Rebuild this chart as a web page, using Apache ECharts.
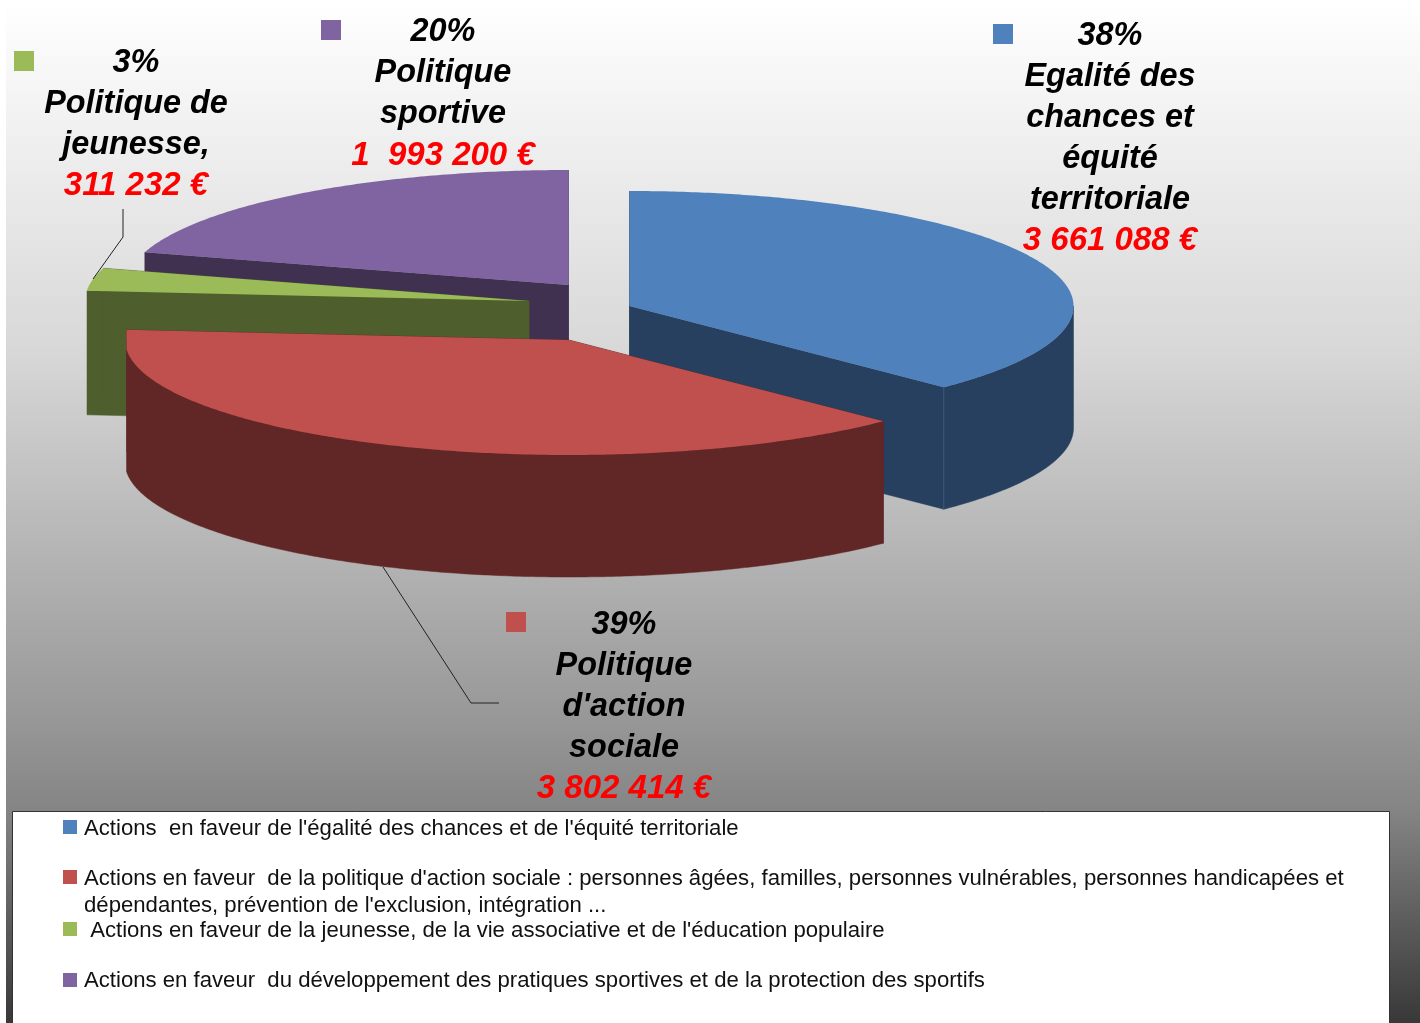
<!DOCTYPE html>
<html><head><meta charset="utf-8">
<style>html,body{margin:0;padding:0;background:#fff}#c{width:1420px;height:1023px}</style>
<script src="https://cdn.jsdelivr.net/npm/echarts@6/dist/echarts.min.js"></script>
</head><body><div id="c"></div>
<script>
// --- data ---
const sliceNames = ["Egalité des chances et équité territoriale","Politique d'action sociale","Politique de jeunesse","Politique sportive"];
const sliceValues = [3661088, 3802414, 311232, 1993200];
const labelPercents = ["38%","39%","3%","20%"];
const labelNames = [["Egalité des","chances et","équité","territoriale"],["Politique","d'action","sociale"],["Politique de","jeunesse,"],["Politique","sportive"]];
const labelAmounts = ["3 661 088 €","3 802 414 €","311 232 €","1  993 200 €"];
const legendTexts = [
 ["Actions  en faveur de l'égalité des chances et de l'équité territoriale"],
 ["Actions en faveur  de la politique d'action sociale : personnes âgées, familles, personnes vulnérables, personnes handicapées et","dépendantes, prévention de l'exclusion, intégration ..."],
 [" Actions en faveur de la jeunesse, de la vie associative et de l'éducation populaire"],
 ["Actions en faveur  du développement des pratiques sportives et de la protection des sportifs"]
];
// --- style & layout ---
const topColors = ['#4f81bd','#c0504d','#9bbb59','#8064a2'];
const wallColors = ['#27405f','#602726','#4e5e2d','#403151'];
const apex = [[629.5,306],[569,340],[529,301],[568.5,285]];
const radiusX = [444,444,444,442];
const clipMinX = [0,126.5,87,0];
const clipMaxX = [1073.5,2000,2000,2000];
const depths = [122,122,124,122];
const RY = 115;
const drawOrder = [3,2,0,1];
const labelPos = [[1110,36],[624,625],[136,63],[443,32.5]];
const labelSwatch = [[993,24],[506,612],[14,51],[321,20]];
const legendY = [829,879,931,981];
const legendSwatchY = [827,877,929,980];
const FONT = '"Liberation Sans", Arial, sans-serif';

const total = sliceValues.reduce((a,b)=>a+b,0);
function sliceAngles(i){
  let s=0; for(let k=0;k<i;k++) s+=sliceValues[k];
  return [s/total*2*Math.PI,(s+sliceValues[i])/total*2*Math.PI];
}
function arcPoints(i,a0,a1){
  const [cx,cy] = apex[i];
  const n = Math.max(8,Math.round((a1-a0)/0.01));
  const pts=[];
  for(let k=0;k<=n;k++){
    const a=a0+(a1-a0)*k/n;
    const x=Math.min(clipMaxX[i],Math.max(clipMinX[i],cx+radiusX[i]*Math.sin(a)));
    pts.push([x,cy-RY*Math.cos(a)]);
  }
  return pts;
}
function renderSlice(params){
  const i = drawOrder[params.dataIndex];
  const [a0,a1] = sliceAngles(i);
  const [cx,cy] = apex[i];
  const arc=arcPoints(i,a0,a1);
  const n=arc.length-1;
  const d=depths[i];
  const down=p=>[p[0],p[1]+d];
  const wallStyle={fill:wallColors[i],stroke:wallColors[i],lineWidth:0.5};
  const kids=[];
  kids.push({type:'polygon',shape:{points:[[cx,cy],arc[0],down(arc[0]),[cx,cy+d]]},style:wallStyle});
  kids.push({type:'polygon',shape:{points:[[cx,cy],arc[n],down(arc[n]),[cx,cy+d]]},style:wallStyle});
  // only the front half of the rim can show
  const f0=Math.max(a0,Math.PI/2), f1=Math.min(a1,3*Math.PI/2);
  if(f1>f0){
    const front=arcPoints(i,f0,f1);
    kids.push({type:'polygon',shape:{points:front.concat(front.slice().reverse().map(down))},style:wallStyle});
  }
  if(i===0) kids.push({type:'line',shape:{x1:arc[n][0],y1:arc[n][1],x2:arc[n][0],y2:arc[n][1]+d},style:{stroke:'#3d5a7e',lineWidth:1}});
  kids.push({type:'polygon',shape:{points:[[cx,cy]].concat(arc)},style:{fill:topColors[i]}});
  return {type:'group',children:kids};
}

const graphics=[];
graphics.push({type:'rect',shape:{x:0,y:0,width:6,height:1023},style:{fill:'#fff'},z:100});
// leader lines
graphics.push({type:'polyline',shape:{points:[[123,209],[123,237],[93,279]]},style:{stroke:'#222',lineWidth:1,fill:null},z:100});
graphics.push({type:'polyline',shape:{points:[[383,567],[471,703],[499,703]]},style:{stroke:'#222',lineWidth:1,fill:null},z:100});
// slice labels
sliceNames.forEach((_,i)=>{
  const [x,y]=labelPos[i];
  const all=[labelPercents[i]].concat(labelNames[i],[labelAmounts[i]]);
  all.forEach((t,k)=>{
    const last=k===all.length-1;
    graphics.push({type:'text',x:x,y:y+k*41,z:100,style:{text:t,x:0,y:0,align:'center',verticalAlign:'middle',
      font:'italic bold '+(last?33:32.4)+'px '+FONT,fill:last?'#ff0000':'#000'}});
  });
  graphics.push({type:'rect',shape:{x:labelSwatch[i][0],y:labelSwatch[i][1],width:20,height:20},style:{fill:topColors[i]},z:100});
});
// legend box
graphics.push({type:'rect',shape:{x:12.5,y:811.5,width:1377,height:220},style:{fill:'#fff',stroke:'#333',lineWidth:1},z:101});
legendTexts.forEach((ls,i)=>{
  graphics.push({type:'rect',shape:{x:63,y:legendSwatchY[i]-7,width:14,height:14},style:{fill:topColors[i]},z:102});
  ls.forEach((t,k)=>{
    graphics.push({type:'text',x:84,y:legendY[i]+k*27,z:102,style:{text:t,x:0,y:0,align:'left',verticalAlign:'middle',font:'22.15px '+FONT,fill:'#111'}});
  });
});

const chart=echarts.init(document.getElementById('c'),null,{renderer:'canvas'});
chart.setOption({
  animation:false,
  backgroundColor:{type:'linear',x:0,y:0,x2:0,y2:1,colorStops:[
    {offset:0,color:'#ffffff'},{offset:0.34,color:'#d8d8d8'},{offset:0.7,color:'#989898'},{offset:0.79,color:'#858585'},{offset:1,color:'#383838'}]},
  series:[{type:'custom',coordinateSystem:'none',renderItem:renderSlice,silent:true,
    data:drawOrder.map(i=>({name:sliceNames[i],value:sliceValues[i]}))}],
  graphic:{elements:graphics}
});
</script></body></html>
